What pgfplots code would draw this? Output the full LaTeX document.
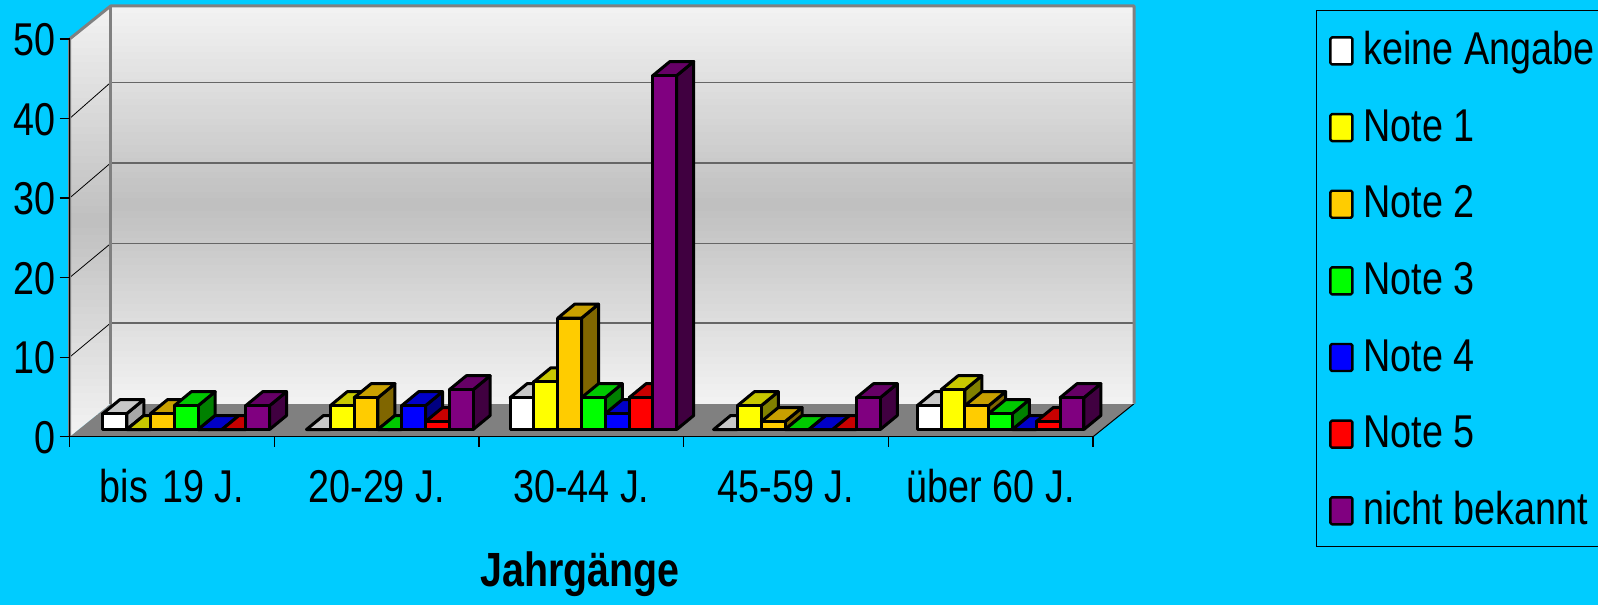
\documentclass[border=0pt]{standalone}
\usepackage{pgfplots}
\usepackage{pgfplotstable}
\usepackage{fontspec}
\setmainfont[FakeStretch=0.82]{Liberation Sans}
\pgfplotsset{compat=1.18}
\definecolor{bgc}{HTML}{00CCFF}
\definecolor{fa}{HTML}{FFFFFF}\definecolor{ta}{HTML}{C8C8C8}\definecolor{sa}{HTML}{A8A8A8}
\definecolor{fb}{HTML}{FFFF00}\definecolor{tb}{HTML}{C8C800}\definecolor{sb}{HTML}{808000}
\definecolor{fc}{HTML}{FFCC00}\definecolor{tc}{HTML}{C8A000}\definecolor{sc}{HTML}{806600}
\definecolor{fd}{HTML}{00FF00}\definecolor{td}{HTML}{00C800}\definecolor{sd}{HTML}{008000}
\definecolor{fe}{HTML}{0000FF}\definecolor{te}{HTML}{0000C8}\definecolor{se}{HTML}{000080}
\definecolor{ff}{HTML}{FF0000}\definecolor{tf}{HTML}{C80000}\definecolor{sf}{HTML}{800000}
\definecolor{fg}{HTML}{800080}\definecolor{tg}{HTML}{660066}\definecolor{sg}{HTML}{400040}
\pgfplotstableread{
cat a b c d e f g
0 2 0 2 3 0 0 3
1 0 3 4 0 3 1 5
2 4 6 14 4 2 4 44.5
3 0 3 1 0 0 0 4
4 3 5 3 2 0 1 4
}\datatable
\newcommand{\barfaces}[4]{% index, column, top colour, side colour
  \addplot[forget plot, only marks, scatter, mark=*, mark size=0.01pt,
    yshift=7.2pt,
    visualization depends on={y \as \val},
    scatter/@pre marker code/.append code={%
      \pgfmathsetmacro{\hh}{\val*7.954}%
      \path[draw=black, line width=3pt, line join=round, fill=#4]
        (11.9pt,0pt) -- (28.9pt,14pt) -- (28.9pt,14pt-\hh pt) -- (11.9pt,-\hh pt) -- cycle;%
      \path[draw=black, line width=3pt, line join=round, fill=#3]
        (-11.9pt,0pt) -- (5.1pt,14pt) -- (28.9pt,14pt) -- (11.9pt,0pt) -- cycle;%
    }]
    table[x expr=\coordindex*0.9945+0.163+(#1+0.5)*0.11627, y=#2] {\datatable};
}
\newcommand{\barfront}[3]{% index, column, front colour
  \addplot[ybar, bar width=23.8pt, bar shift=0pt, yshift=7.2pt, draw=black, line width=3pt, line join=round, fill=#3]
    table[x expr=\coordindex*0.9945+0.163+(#1+0.5)*0.11627, y=#2] {\datatable};
}
\begin{document}
\begin{tikzpicture}[x=1pt,y=1pt]
\useasboundingbox (-69.6,-168.3) rectangle (1528.4,436.7);
\clip (-69.6,-168.3) rectangle (1528.4,436.7);
\fill[bgc] (-69.6,-168.3) rectangle (1528.4,436.7);
% floor
\fill[black!50] (0,0) -- (1023.5,0) -- (1064.5,33) -- (41,33) -- cycle;
\draw[black, line width=1pt] (1023.5,0) -- (1064.5,33);
% walls: vertical gradient in strips
\begin{scope}
\clip (0,0) -- (41,33) -- (41,430.7) -- (0,397.7) -- (0,0);
\foreach \s in {0,1,...,59}{
  \pgfmathsetmacro{\g}{0.75+0.20*abs(\s-29.5)/29.5}
  \definecolor{stripc}{gray}{\g}
  \fill[stripc] (0,{\s*7.2}) rectangle (41,{(\s+1)*7.2+0.6});
}
\end{scope}
\foreach \s in {0,1,...,59}{
  \pgfmathsetmacro{\g}{0.75+0.20*abs(\s-29.5)/29.5}
  \definecolor{stripc}{gray}{\g}
  \fill[stripc] (41,{33+\s*6.6283}) rectangle (1064.5,{min(430.7,33+(\s+1)*6.6283+0.6)});
}
% grid
\foreach \v/\w in {79.54/113.7,159.08/193.1,238.62/273.7,318.16/354.2}{
  \draw[black!60, line width=1.3pt] (41,\w) -- (1064.5,\w);
  \draw[black, line width=0.8pt] (0,\v) -- (41,\w);
}
\draw[black!50, line width=3pt, line join=round] (0,0) -- (0,397.7) -- (41,430.7) -- (1064.5,430.7) -- (1064.5,33);
\draw[black!50, line width=3pt] (41,33) -- (41,430.7);
\begin{axis}[
  at={(0pt,0pt)}, anchor=south west,
  scale only axis, width=1023.5pt, height=397.7pt,
  xmin=0, xmax=5, ymin=0, ymax=50,
  clip=false, clip mode=individual,
  axis lines=left,
  axis line style={-, black, line width=1.4pt},
  xtick={0.5,1.5,2.5,3.5,4.5},
  xticklabels={{bis\ \kern4pt 19 J.},20-29 J.,30-44 J.,45-59 J.,über 60 J.},
  minor xtick={0,1,2,3,4,5},
  major x tick style={draw=none},
  minor x tick style={black, line width=1.2pt},
  minor tick length=10pt,
  ytick={0,10,20,30,40,50},
  y tick style={black, line width=1.2pt},
  major tick length=10pt,
  tick align=outside,
  /pgf/number format/assume math mode=true,
  tick label style={font=\fontsize{46}{46}\selectfont, text=black},
  xticklabel style={yshift=-56pt, anchor=base, text height=0pt},
  yticklabel style={xshift=-1pt, yshift=-1pt},
  xlabel={\textbf{Jahrgänge}},
  xlabel style={font=\fontsize{48}{48}\selectfont, at={(axis description cs:0.4985,0)}, anchor=base, yshift=-150pt},
  legend style={at={(1.2176,1.0729)}, anchor=north west, draw=black, line width=0.8pt, fill=none,
     font=\fontsize{46}{46}\selectfont,
     inner xsep=13pt, inner ysep=11.9pt,
     row sep=24.55pt,
     /tikz/every odd column/.append style={column sep=10pt},
     nodes={inner sep=0pt, text height=42.1pt, text depth=10pt, anchor=base west}},
  legend cell align=left,
  legend image code/.code={\draw[#1, yshift=-7.2pt, line width=2.4pt, rounded corners=1.5pt] (0pt,0pt) rectangle (22pt,27pt);},
]
\barfaces{0}{a}{ta}{sa}\barfront{0}{a}{fa}\addlegendentry{keine Angabe}
\barfaces{1}{b}{tb}{sb}\barfront{1}{b}{fb}\addlegendentry{Note 1}
\barfaces{2}{c}{tc}{sc}\barfront{2}{c}{fc}\addlegendentry{Note 2}
\barfaces{3}{d}{td}{sd}\barfront{3}{d}{fd}\addlegendentry{Note 3}
\barfaces{4}{e}{te}{se}\barfront{4}{e}{fe}\addlegendentry{Note 4}
\barfaces{5}{f}{tf}{sf}\barfront{5}{f}{ff}\addlegendentry{Note 5}
\barfaces{6}{g}{tg}{sg}\barfront{6}{g}{fg}\addlegendentry{nicht bekannt}
\end{axis}
\end{tikzpicture}
\end{document}
